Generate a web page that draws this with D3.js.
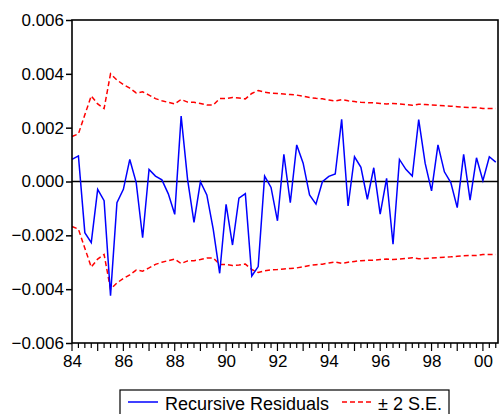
<!DOCTYPE html>
<html>
<head>
<meta charset="utf-8">
<script src="https://cdn.jsdelivr.net/npm/d3@7"></script>
<style>
  html, body { margin: 0; padding: 0; background: #fff; }
  svg { display: block; font-family: "Liberation Sans", Arial, sans-serif; }
</style>
</head>
<body>
<svg id="chart" width="499" height="414"></svg>
<script>
// ---- data (quarterly, 1984Q1 .. 2000Q3) ----
const startYear = 1984;
const residuals = [
  0.00082, 0.00095, -0.00190, -0.00227, -0.00029, -0.00071, -0.00424, -0.00079,
  -0.00029, 0.00082, -0.00004, -0.00209, 0.00045, 0.00020, 0.00006, -0.00046,
  -0.00122, 0.00243, 0.00008, -0.00152, -0.00001, -0.00050, -0.00178, -0.00341,
  -0.00085, -0.00236, -0.00062, -0.00045, -0.00351, -0.00316, 0.00020, -0.00022,
  -0.00146, 0.00101, -0.00079, 0.00136, 0.00068, -0.00050, -0.00084, -0.00001,
  0.00019, 0.00028, 0.00231, -0.00091, 0.00092, 0.00053, -0.00066, 0.00051,
  -0.00121, 0.00012, -0.00233, 0.00082, 0.00045, 0.00020, 0.00230, 0.00068,
  -0.00035, 0.00136, 0.00036, -0.00004, -0.00097, 0.00101, -0.00069, 0.00088,
  0.00003, 0.00092, 0.00072
];
const twoSE = [
  0.00167, 0.00177, 0.00248, 0.00318, 0.00288, 0.00271, 0.00400, 0.00377,
  0.00360, 0.00347, 0.00329, 0.00333, 0.00321, 0.00308, 0.00300, 0.00294,
  0.00288, 0.00305, 0.00295, 0.00294, 0.00290, 0.00284, 0.00284, 0.00308,
  0.00308, 0.00312, 0.00310, 0.00307, 0.00327, 0.00338, 0.00332, 0.00328,
  0.00327, 0.00325, 0.00323, 0.00321, 0.00317, 0.00312, 0.00309, 0.00307,
  0.00303, 0.00299, 0.00304, 0.00300, 0.00297, 0.00294, 0.00293, 0.00292,
  0.00290, 0.00288, 0.00290, 0.00288, 0.00286, 0.00283, 0.00287, 0.00286,
  0.00284, 0.00283, 0.00281, 0.00280, 0.00278, 0.00276, 0.00275, 0.00275,
  0.00271, 0.00271, 0.00271
];
const yTicks = [-0.006, -0.004, -0.002, 0.000, 0.002, 0.004, 0.006];
const xTickYears = [1984, 1986, 1988, 1990, 1992, 1994, 1996, 1998, 2000];
const xTickLabels = ["84", "86", "88", "90", "92", "94", "96", "98", "00"];
const seriesNames = ["Recursive Residuals", "\u00B1 2 S.E."];

// ---- layout ----
const mLeft = 72, mRight = 498, mTop = 20, mBottom = 343;
const svg = d3.select("#chart");

const t = residuals.map((_, i) => startYear + i / 4);
const x = d3.scaleLinear().domain([startYear, startYear + 66.35 / 4]).range([mLeft, mRight]);
const y = d3.scaleLinear().domain([-0.006, 0.006]).range([mBottom, mTop]);

// y axis
const yAxis = d3.axisLeft(y).tickValues(yTicks).tickFormat(d3.format(".3f")).tickSize(6).tickSizeOuter(0);
const gy = svg.append("g").attr("transform", `translate(${mLeft},0)`).call(yAxis);
gy.select(".domain").remove();
gy.selectAll("line").attr("stroke", "#000").attr("stroke-width", 1.5);
gy.selectAll("text").attr("font-size", 17).attr("fill", "#000").attr("x", -8);

// x axis: quarterly minor ticks, yearly longer ticks
const quarterTicks = d3.range(0, 67).map(i => startYear + i / 4);
svg.append("g").selectAll("line").data(quarterTicks).join("line")
  .attr("x1", d => x(d)).attr("x2", d => x(d))
  .attr("y1", mBottom)
  .attr("y2", (d, i) => mBottom + (i % 4 === 0 ? 8 : 5))
  .attr("stroke", "#000").attr("stroke-width", 1.2);
const xAxis = d3.axisBottom(x).tickValues(xTickYears)
  .tickFormat((d, i) => xTickLabels[i]).tickSize(0).tickPadding(12);
const gx = svg.append("g").attr("transform", `translate(0,${mBottom})`).call(xAxis);
gx.select(".domain").remove();
gx.selectAll("text").attr("font-size", 17).attr("fill", "#000");

// zero line
svg.append("line").attr("x1", mLeft).attr("x2", mRight).attr("y1", y(0)).attr("y2", y(0))
  .attr("stroke", "#000").attr("stroke-width", 1.6);

// bands
const upper = d3.line().x((d, i) => x(t[i])).y(d => y(d));
const lower = d3.line().x((d, i) => x(t[i])).y(d => y(-d));
svg.append("path").datum(twoSE).attr("d", upper)
  .attr("fill", "none").attr("stroke", "#ff0000").attr("stroke-width", 1.5).attr("stroke-dasharray", "5,3");
svg.append("path").datum(twoSE).attr("d", lower)
  .attr("fill", "none").attr("stroke", "#ff0000").attr("stroke-width", 1.5).attr("stroke-dasharray", "5,3");

// residuals
const resLine = d3.line().x((d, i) => x(t[i])).y(d => y(d));
svg.append("path").datum(residuals).attr("d", resLine)
  .attr("fill", "none").attr("stroke", "#0000ff").attr("stroke-width", 1.5);

// frame
svg.append("rect").attr("x", mLeft).attr("y", mTop).attr("width", mRight - mLeft).attr("height", mBottom - mTop)
  .attr("fill", "none").attr("stroke", "#000").attr("stroke-width", 1.6);

// legend
const lg = svg.append("g");
lg.append("rect").attr("x", 120).attr("y", 390).attr("width", 329).attr("height", 40)
  .attr("fill", "#fff").attr("stroke", "#000").attr("stroke-width", 1.2);
lg.append("line").attr("x1", 128).attr("x2", 158).attr("y1", 402).attr("y2", 402)
  .attr("stroke", "#0000ff").attr("stroke-width", 1.5);
lg.append("text").attr("x", 165).attr("y", 409.5).attr("font-size", 18).attr("fill", "#000").text(seriesNames[0]);
lg.append("line").attr("x1", 342).attr("x2", 372).attr("y1", 402).attr("y2", 402)
  .attr("stroke", "#ff0000").attr("stroke-width", 1.5).attr("stroke-dasharray", "5,3");
lg.append("text").attr("x", 378).attr("y", 409.5).attr("font-size", 18).attr("fill", "#000").text(seriesNames[1]);
</script>
</body>
</html>
